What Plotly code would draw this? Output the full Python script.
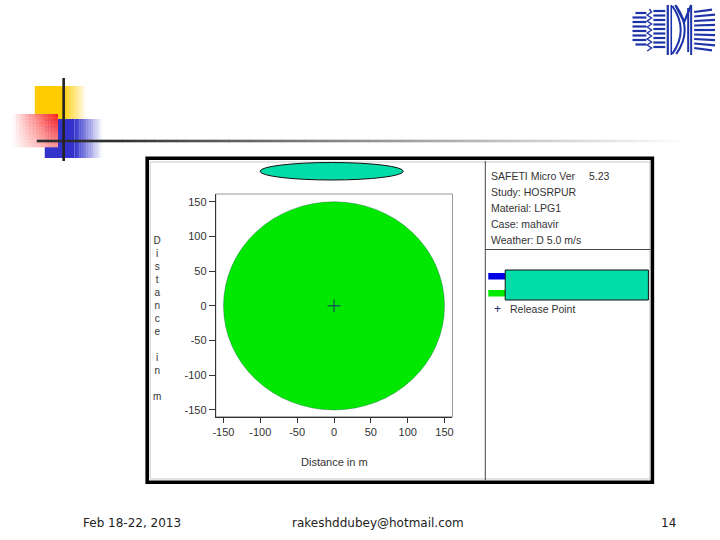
import plotly.graph_objects as go

# ---------------- data ----------------
release_x = [0]
release_y = [0]
effect_radius = 150  # m, radius of the green effect zone
x_ticks = [-150, -100, -50, 0, 50, 100, 150]
x_tick_labels = ["-150", "-100", "-50", "0", "50", "100", "150"]
y_ticks = [-150, -100, -50, 0, 50, 100, 150]
y_tick_labels = ["-150", "-100", "-50", "0", "50", "100", "150"]
info_lines = ["SAFETI Micro Ver", "Study: HOSRPUR", "Material: LPG1", "Case: mahavir", "Weather: D 5.0 m/s"]
version_text = "5.23"
legend_label = "Release Point"
x_title = "Distance in m"
y_title_letters = ["D", "i", "s", "t", "a", "n", "c", "e", "", "i", "n", "", "m"]
footer_left = "Feb 18-22, 2013"
footer_mid = "rakeshddubey@hotmail.com"
footer_right = "14"

W, H = 720, 540


def X(px):
    return px / W


def Y(py):
    return 1 - py / H


shapes = []
annotations = []


def rect(x0, y0, x1, y1, fill=None, line=None, lw=0, layer="above"):
    shapes.append(dict(type="rect", xref="paper", yref="paper",
                       x0=X(x0), x1=X(x1), y0=Y(y1), y1=Y(y0),
                       fillcolor=fill if fill else "rgba(0,0,0,0)",
                       line=dict(color=line if line else "rgba(0,0,0,0)", width=lw),
                       layer=layer))


def seg(x0, y0, x1, y1, color, lw):
    shapes.append(dict(type="line", xref="paper", yref="paper",
                       x0=X(x0), x1=X(x1), y0=Y(y0), y1=Y(y1),
                       line=dict(color=color, width=lw)))


def mix(c, t):
    # t=1 -> full colour, t=0 -> white
    return "rgb(%d,%d,%d)" % tuple(round(255 + (ci - 255) * t) for ci in c)


def text(x, y, s, size=10.5, color="#333", family="Liberation Sans", xanchor="left"):
    annotations.append(dict(x=X(x), y=Y(y), xref="paper", yref="paper", text=s,
                            showarrow=False, xanchor=xanchor, yanchor="middle",
                            font=dict(family=family, size=size, color=color)))


# ---------------- slide decorations ----------------
yellow = (255, 204, 0)
blue = (51, 51, 204)
red = (250, 25, 25)

# yellow square: solid then fading right
rect(32, 86, 61, 119, fill=mix(yellow, 1))
n = 12
for i in range(n):
    t = 1 - (i + 0.5) / n
    rect(61 + 23 * i / n, 86, 61 + 23 * (i + 1) / n + 0.3, 119, fill=mix(yellow, t))

# blue square
rect(42, 119, 72, 158, fill=mix(blue, 1))
for i in range(n):
    t = 1 - (i + 0.5) / n
    rect(72 + 28 * i / n, 119, 72 + 28 * (i + 1) / n + 0.3, 158, fill=mix(blue, t))

# red square with 2D fade (strong top-right)
nx, ny = 14, 10
for i in range(nx):
    for j in range(ny):
        fx = (i + 0.5) / nx
        fy = (j + 0.5) / ny
        t = (fx ** 0.9) * (1 - 0.55 * fy)
        x0 = 10 + 45 * i / nx
        y0 = 114 + 33 * j / ny
        rect(x0, y0, x0 + 45 / nx + 0.3, y0 + 33 / ny + 0.3, fill=mix(red, t))

# horizontal fading rule
nseg = 60
for i in range(nseg):
    t = (i + 0.5) / nseg
    f = max(0.0, (t - 0.12) / 0.88) ** 0.9
    v = round(45 + (252 - 45) * f)
    seg(34 + (680 - 34) * i / nseg, 141, 34 + (680 - 34) * (i + 1) / nseg + 0.5, 141,
        "rgb(%d,%d,%d)" % (v, v, v), 2.6)
# vertical rule
seg(61, 78, 61, 161, "#222", 2.6)

# ---------------- logo (approximation) ----------------
lc = "#1f33a8"
for k, yy in enumerate([13, 17.5, 22, 26.5, 31, 35.5, 40, 44.5]):
    shrink = 3 if k in (0, 7) else 0
    seg(633 + shrink, yy, 647, yy, lc, 2.2)
shapes.append(dict(type="path", xref="paper", yref="paper",
                   path="M %f %f " % (X(650), Y(9)) + " ".join(
                       "L %f %f" % (X(650 + (2.2 if k % 2 else -2.2)), Y(9 + 3 * k)) for k in range(1, 15)),
                   line=dict(color=lc, width=1.4)))
for yy in [11, 15.5, 20, 24.5, 29, 33.5, 38, 42.5, 47]:
    seg(654, yy, 666, yy, lc, 2.2)
seg(668.5, 5, 668.5, 55, lc, 2.2)
seg(672, 5, 672, 55, lc, 1.6)
for dx in [0, 4]:
    shapes.append(dict(type="path", xref="paper", yref="paper",
                       path="M %f %f Q %f %f %f %f" % (X(673 + dx), Y(6), X(690 + dx), Y(30), X(673 + dx), Y(54)),
                       line=dict(color=lc, width=2)))
shapes.append(dict(type="path", xref="paper", yref="paper",
                   path="M %f %f L %f %f L %f %f" % (X(676), Y(5), X(685), Y(22), X(692), Y(5)),
                   line=dict(color=lc, width=2.2)))
seg(689, 8, 689, 52, lc, 2)
seg(692, 5, 692, 55, lc, 2)
for k, yy in enumerate([12, 16.5, 21, 25.5, 30, 34.5, 39, 43.5, 48]):
    seg(695, yy, 716 - (3 if k in (0, 8) else 0), yy + (0.6 * (k - 4)), lc, 2.2)

# ---------------- chart frame ----------------
rect(145, 158.3, 653, 482.3, fill="white", line="#000", lw=3.6, layer="below")
rect(148, 162, 650.5, 479, line="#c9c9c9", lw=1, layer="below")
seg(485, 161, 485, 480.5, "#444", 1)
seg(485, 249.5, 651, 249.5, "#444", 1)

# title ellipse (top)
shapes.append(dict(type="circle", xref="paper", yref="paper",
                   x0=X(258.5), x1=X(402.5), y0=Y(180), y1=Y(162.5),
                   fillcolor="#02dca8", line=dict(color="#111", width=1)))

# info panel
for k, s in enumerate(info_lines):
    text(489, 175.7 + 16 * k, s)
text(587, 175.7, version_text)

# legend
rect(488, 273, 505, 279.5, fill="#0000e6")
rect(488, 290, 505, 296.5, fill="#00ea00")
rect(505, 270, 649, 300, fill="#02dca8", line="#111", lw=1)
text(497.5, 309, "+", size=12, color="#1c2a6a", xanchor="center")
text(508, 309, legend_label)

# axis titles
text(333, 461.5, x_title, size=11, xanchor="center")
annotations.append(dict(x=X(154.5), y=Y(318.5), xref="paper", yref="paper",
                        text="<br>".join(l if l else " " for l in y_title_letters),
                        showarrow=False, xanchor="center", yanchor="middle", align="center",
                        font=dict(family="Liberation Sans", size=10, color="#333")))

# plot box (gray top/right)
shapes.append(dict(type="rect", xref="x domain", yref="y domain", x0=0, x1=1, y0=0, y1=1,
                   line=dict(color="#9a9a9a", width=1), layer="below"))
# effect zone
shapes.append(dict(type="circle", xref="x", yref="y",
                   x0=-effect_radius, x1=effect_radius, y0=-effect_radius, y1=effect_radius,
                   fillcolor="#00e800", line=dict(color="rgba(20,70,80,0.45)", width=0.7),
                   layer="below"))

# footer
text(129.5, 523, footer_left, size=12, color="#222", family="DejaVu Sans", xanchor="center")
text(377, 523, footer_mid, size=12, color="#222", family="DejaVu Sans", xanchor="center")
text(669, 523, footer_right, size=12, color="#222", family="DejaVu Sans", xanchor="center")

fig = go.Figure()
fig.add_trace(go.Scatter(x=release_x, y=release_y, mode="markers", name=legend_label,
                         marker=dict(symbol="cross-thin", size=9,
                                     line=dict(color="#1c2a6a", width=1)),
                         hoverinfo="skip"))

axis_common = dict(ticks="outside", tickcolor="#333", showline=True, linecolor="#333",
                   linewidth=1, showgrid=False, zeroline=False, fixedrange=True,
                   tickfont=dict(family="Liberation Sans", size=11, color="#333"))
fig.update_layout(
    width=W, height=H, margin=dict(l=0, r=0, t=0, b=0),
    paper_bgcolor="white", plot_bgcolor="rgba(0,0,0,0)", showlegend=False,
    xaxis=dict(domain=[X(214), X(452)], range=[-160.4, 160.8], tickvals=x_ticks,
               ticktext=x_tick_labels, ticklen=5, **axis_common),
    yaxis=dict(domain=[Y(416.7), Y(194)], range=[-159.7, 161.1], tickvals=y_ticks,
               ticktext=y_tick_labels, ticklen=6, **axis_common),
    shapes=shapes, annotations=annotations,
)
fig.write_html("out.html", config={"displayModeBar": False},
               post_script="document.body.style.margin='0';document.body.style.overflow='hidden';")
